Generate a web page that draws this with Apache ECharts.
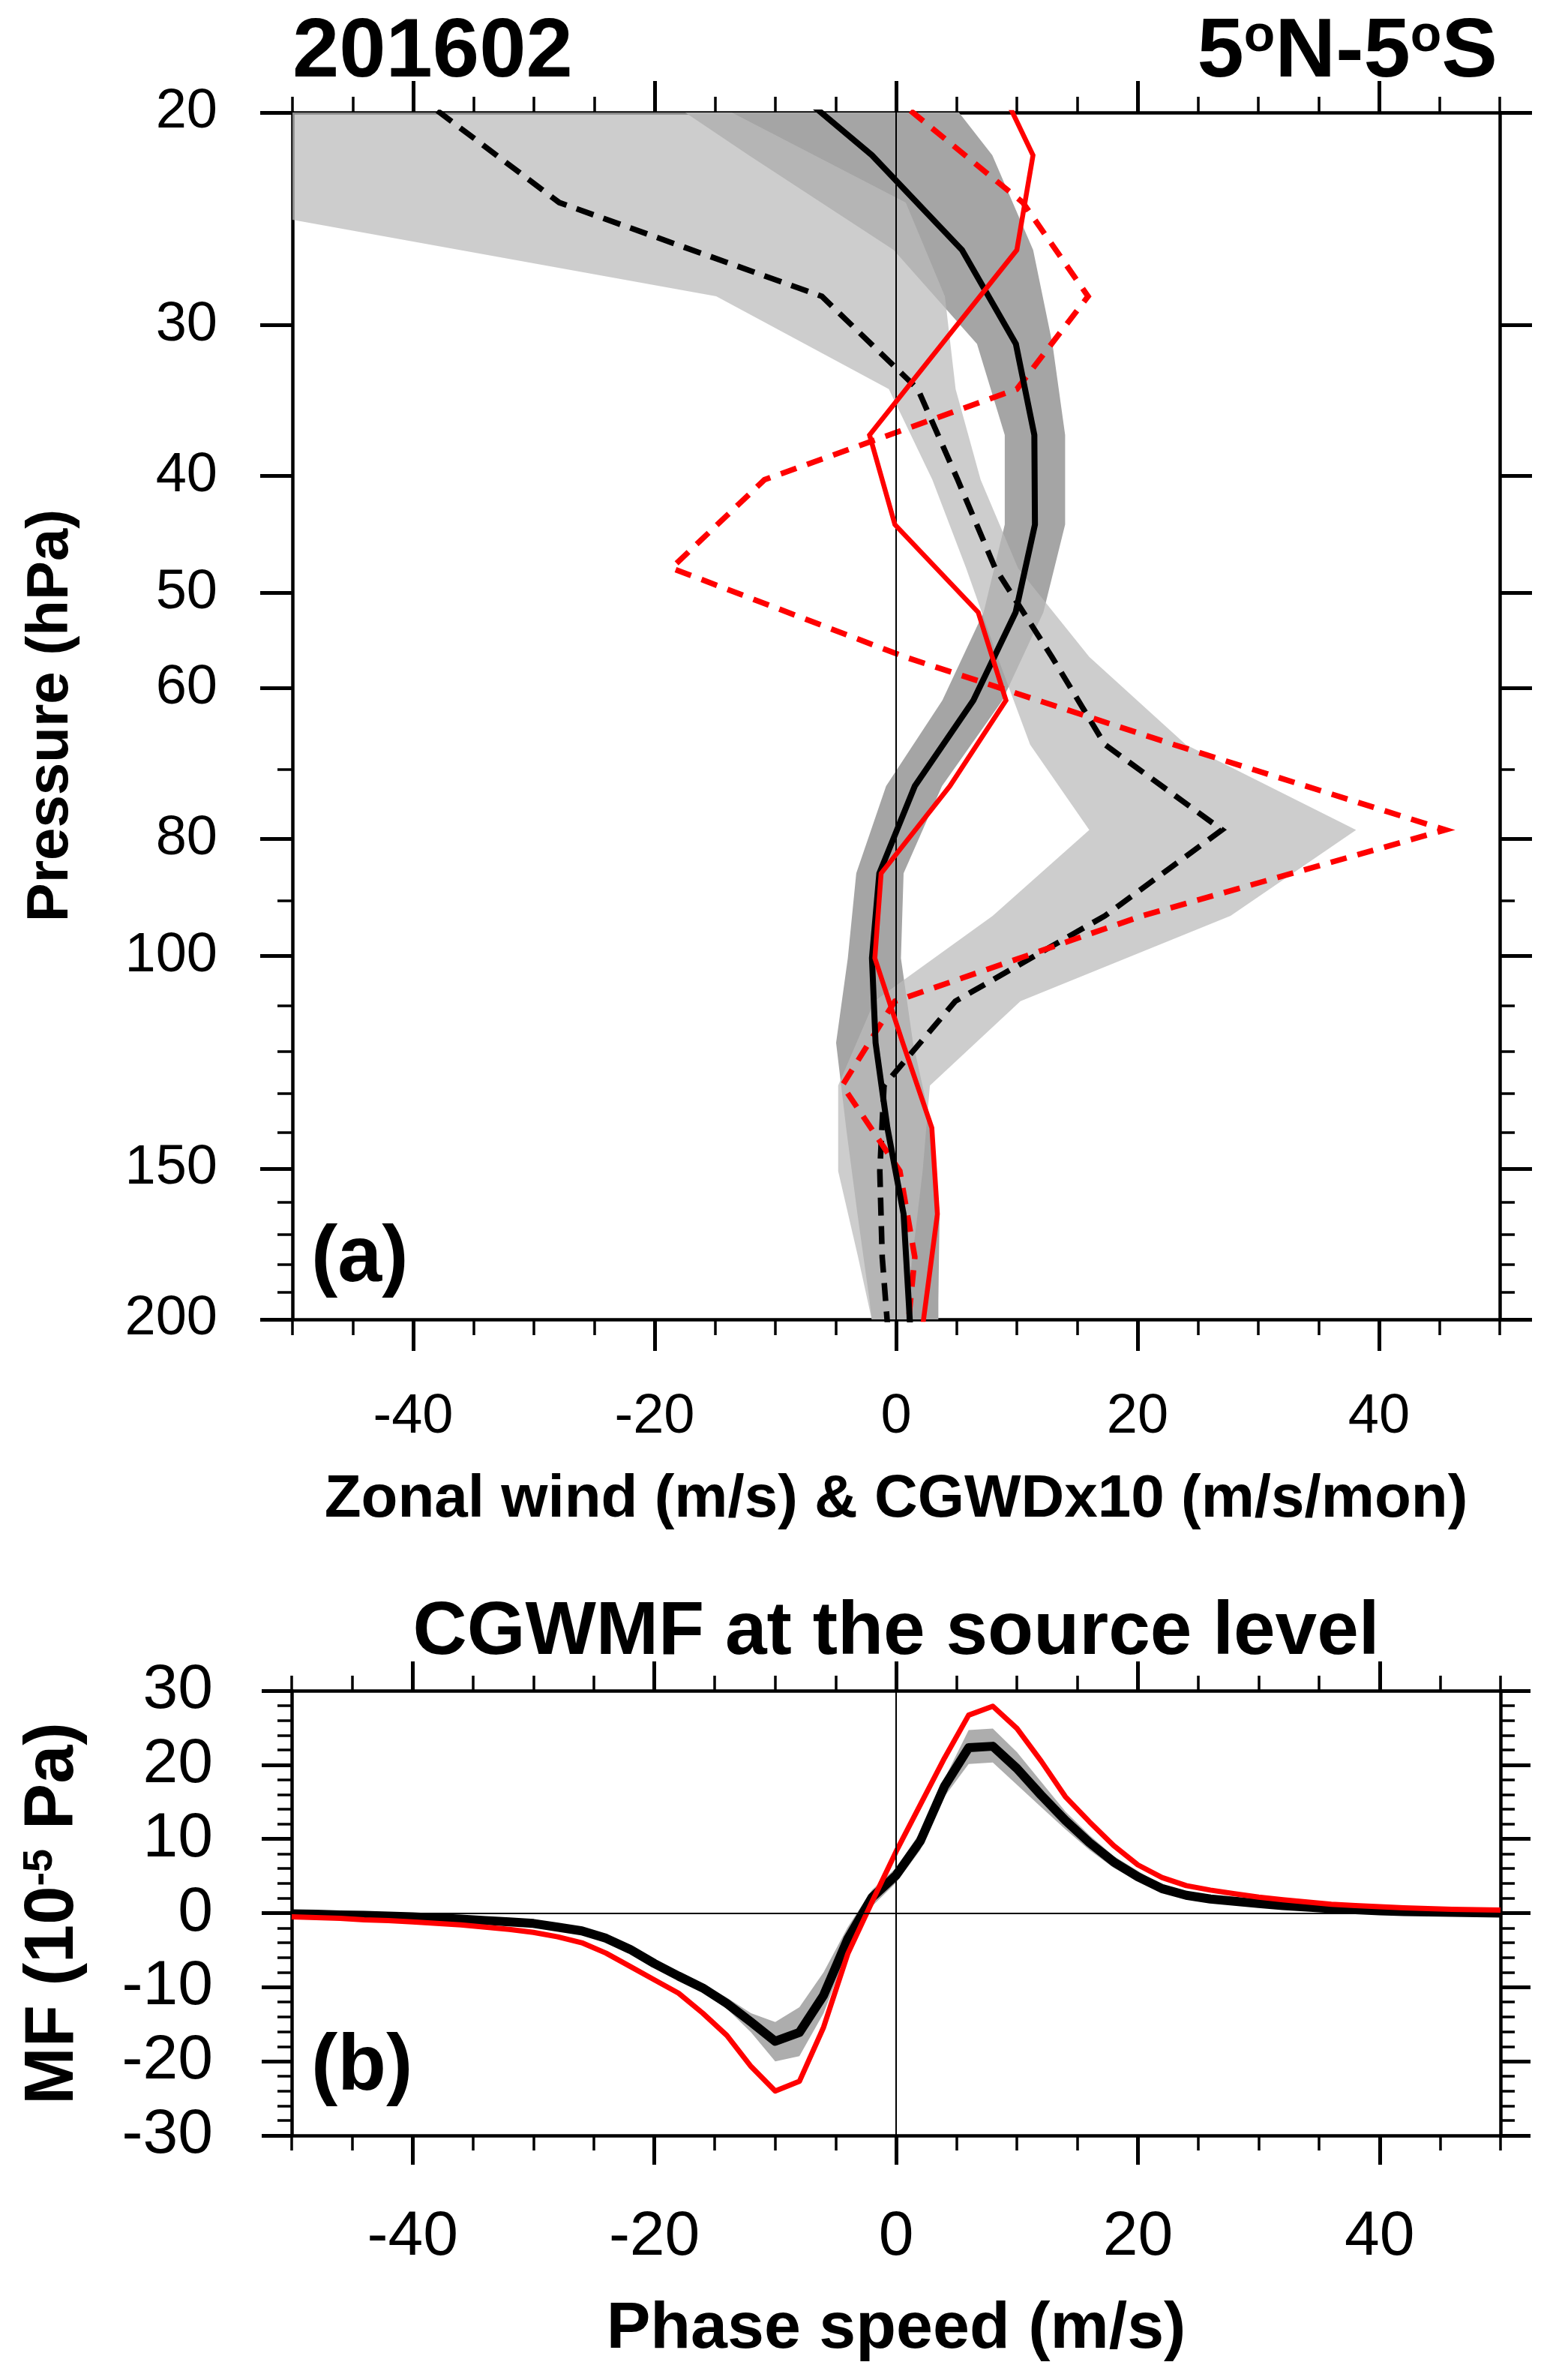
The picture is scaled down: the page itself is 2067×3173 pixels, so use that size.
<!DOCTYPE html>
<html>
<head>
<meta charset="utf-8">
<script src="https://cdn.jsdelivr.net/npm/echarts@6/dist/echarts.min.js"></script>
<style>
html,body{margin:0;padding:0;background:#ffffff;}
#chart{width:2067px;height:3173px;}
</style>
</head>
<body>
<div id="chart"></div>
<script>
// ---------------- Panel (a): vertical profiles ----------------
// model full levels (hPa) for zonal wind, half levels for CGWD
const fullLevels = [18.3, 21.7, 26.0, 31.1, 37.0, 43.9, 51.9, 61.4, 72.3, 85.4, 100.4, 118.0, 138.8, 163.6, 192.9, 227.0];
const halfLevels = [19.93, 23.75, 28.4, 33.9, 40.3, 47.7, 56.5, 66.8, 78.6, 92.6, 109.0, 128.0, 150.7, 177.6, 209.0];

// zonal wind (m/s) on full levels
const windEnsMean = [-10.8, -2.0, 5.46, 9.92, 11.45, 11.5, 9.9, 6.4, 1.55, -1.39, -2.0, -1.7, -0.72, 0.62, 1.04, 1.45];
const windEnsMin  = [-23.2, -12.2, -0.2, 6.7, 9.0, 9.0, 7.25, 3.83, -0.83, -3.3, -4.0, -4.97, -4.14, -3.2, -2.2, -1.4];
const windEnsMax  = [2.2, 7.97, 11.35, 12.95, 14.0, 14.0, 12.2, 8.8, 3.8, 0.62, 0.4, 1.4, 2.96, 3.6, 3.5, 3.5];
const windRef     = [7.8, 11.34, 10.0, 3.8, -2.2, -0.1, 6.8, 9.1, 4.45, -1.24, -1.76, 0.55, 2.96, 3.42, 2.48, 1.55];

// CGWD x10 (m/s/mon) on half levels
const gwdEnsMean = [-38.0, -27.9, -6.15, 1.8, 5.1, 8.2, 12.9, 17.3, 27.0, 17.3, 4.9, -1.0, -1.35, -1.15, -0.6];
const gwdEnsMin  = [-60.0, -57.9, -14.9, -0.6, 3.0, 5.8, 8.4, 11.1, 16.0, 8.0, -1.8, -4.8, -4.8, -3.15, -1.6];
const gwdEnsMax  = [-13.9, 0.8, 4.04, 4.93, 7.0, 10.1, 16.0, 24.0, 38.1, 27.7, 10.3, 2.8, 2.2, 1.35, 0.6];
const gwdRef     = [1.2, 10.5, 15.9, 10.0, -10.9, -18.6, 0.7, 23.0, 45.5, 20.4, -0.1, -4.45, 0.31, 1.55, 0.85];

const pressureTickLabels = [20, 30, 40, 50, 60, 80, 100, 150, 200];
const pressureMinorTicks = [70, 90, 110, 120, 130, 140, 160, 170, 180, 190];
const windTickLabels = [-40, -20, 0, 20, 40];
const windMinorTicks = [-50, -45, -40, -35, -30, -25, -20, -15, -10, -5, 0, 5, 10, 15, 20, 25, 30, 35, 40, 45, 50];

// ---------------- Panel (b): momentum flux spectrum ----------------
const phaseSpeed = [-50, -48, -46, -44, -42, -40, -38, -36, -34, -32, -30, -28, -26, -24, -22, -20, -18, -16, -14, -12, -10, -8, -6, -4, -2, 0, 2, 4, 6, 8, 10, 12, 14, 16, 18, 20, 22, 24, 26, 28, 30, 32, 34, 36, 38, 40, 42, 44, 46, 48, 50];
const mfEnsMean = [-0.1, -0.15, -0.25, -0.3, -0.4, -0.5, -0.65, -0.8, -1.0, -1.2, -1.4, -1.9, -2.4, -3.4, -4.9, -6.8, -8.5, -10.1, -12.2, -14.7, -17.3, -16.1, -11.1, -3.5, 2.1, 5.1, 9.7, 17.1, 22.3, 22.5, 19.5, 15.9, 12.5, 9.5, 6.9, 4.9, 3.3, 2.4, 1.9, 1.6, 1.3, 1.0, 0.8, 0.6, 0.45, 0.3, 0.2, 0.15, 0.1, 0.05, 0.0];
const mfEnsMin  = [-0.5, -0.55, -0.65, -0.7, -0.8, -0.9, -1.05, -1.2, -1.4, -1.6, -1.8, -2.3, -2.8, -3.8, -5.3, -7.3, -9.0, -10.7, -12.9, -16.1, -20.0, -19.3, -13.5, -5.1, 0.9, 4.1, 8.5, 15.7, 20.1, 20.3, 17.3, 14.3, 11.3, 8.5, 6.1, 4.3, 2.9, 2.0, 1.5, 1.2, 0.9, 0.6, 0.4, 0.2, 0.05, -0.1, -0.2, -0.25, -0.3, -0.35, -0.4];
const mfEnsMax  = [0.3, 0.25, 0.15, 0.1, 0.0, -0.1, -0.25, -0.4, -0.6, -0.8, -1.0, -1.5, -2.0, -3.0, -4.5, -6.3, -8.0, -9.5, -11.4, -13.5, -14.7, -12.7, -8.0, -1.9, 3.1, 6.1, 10.9, 18.1, 24.7, 24.9, 21.7, 17.7, 13.7, 10.5, 7.7, 5.7, 3.7, 2.8, 2.3, 2.0, 1.7, 1.4, 1.2, 1.0, 0.85, 0.7, 0.6, 0.55, 0.5, 0.45, 0.4];
const mfRef     = [-0.5, -0.6, -0.7, -0.9, -1.0, -1.2, -1.4, -1.6, -1.9, -2.2, -2.6, -3.2, -4.0, -5.4, -7.2, -9.0, -10.8, -13.5, -16.5, -20.7, -24.0, -22.7, -15.4, -5.5, 1.5, 8.3, 14.6, 20.9, 26.7, 27.9, 24.9, 20.5, 15.7, 12.3, 9.1, 6.5, 4.8, 3.7, 3.1, 2.6, 2.15, 1.8, 1.5, 1.2, 1.0, 0.85, 0.7, 0.6, 0.5, 0.45, 0.4];
const mfTickLabels = [-30, -20, -10, 0, 10, 20, 30];
const mfMinorTicks = [-30, -28, -26, -24, -22, -20, -18, -16, -14, -12, -10, -8, -6, -4, -2, 0, 2, 4, 6, 8, 10, 12, 14, 16, 18, 20, 22, 24, 26, 28, 30];
const speedTickLabels = [-40, -20, 0, 20, 40];
const speedMinorTicks = [-50, -45, -40, -35, -30, -25, -20, -15, -10, -5, 0, 5, 10, 15, 20, 25, 30, 35, 40, 45, 50];

// ---------------- build ----------------
const FONT = '"Liberation Sans", Arial, Helvetica, sans-serif';
const lg = v => Math.log10(v);

function xAx(grid, pos, ticks, len, tw, labels, fs, margin, showLine) {
  return {
    type: 'value', gridIndex: grid, position: pos, min: -50, max: 50,
    splitLine: { show: false },
    axisLine: { show: showLine, onZero: false, lineStyle: { color: '#000', width: 4.5 } },
    axisTick: { show: true, inside: false, length: len, customValues: ticks, lineStyle: { color: '#000', width: tw } },
    axisLabel: labels ? { show: true, customValues: labels, fontSize: fs, fontFamily: FONT, color: '#000', margin: margin, lineHeight: fs } : { show: false }
  };
}
function yAx(grid, pos, mn, mx, inv, ticks, len, tw, labels, fs, margin, showLine, fmt) {
  const a = {
    type: 'value', gridIndex: grid, position: pos, min: mn, max: mx, inverse: inv,
    splitLine: { show: false },
    axisLine: { show: showLine, onZero: false, lineStyle: { color: '#000', width: 4.5 } },
    axisTick: { show: true, inside: false, length: len, customValues: ticks, lineStyle: { color: '#000', width: tw } },
    axisLabel: labels ? { show: true, customValues: labels, fontSize: fs, fontFamily: FONT, color: '#000', margin: margin } : { show: false }
  };
  if (labels && fmt) a.axisLabel.formatter = fmt;
  return a;
}

const pMin = lg(20), pMax = lg(200);
const pLab = pressureTickLabels.map(lg);
const pMinor = pressureMinorTicks.map(lg);
const pFmt = v => String(Math.round(Math.pow(10, v)));

const xAxes = [
  xAx(0, 'bottom', windTickLabels, 42, 5, windTickLabels, 74, 94, true),
  xAx(0, 'top', windTickLabels, 42, 5, null, 0, 0, true),
  xAx(0, 'bottom', windMinorTicks, 21, 3.5, null, 0, 0, false),
  xAx(0, 'top', windMinorTicks, 21, 3.5, null, 0, 0, false),
  xAx(1, 'bottom', speedTickLabels, 39, 5, speedTickLabels, 84, 94, true),
  xAx(1, 'top', speedTickLabels, 39, 5, null, 0, 0, true),
  xAx(1, 'bottom', speedMinorTicks, 20, 3.5, null, 0, 0, false),
  xAx(1, 'top', speedMinorTicks, 20, 3.5, null, 0, 0, false)
];
const yAxes = [
  yAx(0, 'left', pMin, pMax, true, pLab, 43, 5, pLab, 74, 100, true, pFmt),
  yAx(0, 'right', pMin, pMax, true, pLab, 43, 5, null, 0, 0, true),
  yAx(0, 'left', pMin, pMax, true, pMinor, 20, 3.5, null, 0, 0, false),
  yAx(0, 'right', pMin, pMax, true, pMinor, 20, 3.5, null, 0, 0, false),
  yAx(1, 'left', -30, 30, false, mfTickLabels, 40, 5, mfTickLabels, 84, 105, true),
  yAx(1, 'right', -30, 30, false, mfTickLabels, 40, 5, null, 0, 0, true),
  yAx(1, 'left', -30, 30, false, mfMinorTicks, 19, 3.5, null, 0, 0, false),
  yAx(1, 'right', -30, 30, false, mfMinorTicks, 19, 3.5, null, 0, 0, false)
];

// band between two x-curves along pressure (panel a)
function profileBand(name, lo, hi, levels, fill, z) {
  const ys = levels.map(lg);
  return {
    name: name, type: 'custom', xAxisIndex: 0, yAxisIndex: 0, z: z, silent: true, clip: true,
    data: [[0, lg(50)]],
    renderItem: function (params, api) {
      const pts = [];
      for (let i = 0; i < ys.length; i++) pts.push(api.coord([lo[i], ys[i]]));
      for (let i = ys.length - 1; i >= 0; i--) pts.push(api.coord([hi[i], ys[i]]));
      return { type: 'polygon', shape: { points: pts }, style: { fill: fill, stroke: null, lineWidth: 0 } };
    }
  };
}
// band between two y-curves along phase speed (panel b)
function spectrumBand(name, xs, lo, hi, fill, z) {
  return {
    name: name, type: 'custom', xAxisIndex: 4, yAxisIndex: 4, z: z, silent: true, clip: true,
    data: [[0, 0]],
    renderItem: function (params, api) {
      const pts = [];
      for (let i = 0; i < xs.length; i++) pts.push(api.coord([xs[i], lo[i]]));
      for (let i = xs.length - 1; i >= 0; i--) pts.push(api.coord([xs[i], hi[i]]));
      return { type: 'polygon', shape: { points: pts }, style: { fill: fill, stroke: null, lineWidth: 0 } };
    }
  };
}
function profileLine(name, vals, levels, color, width, dash, z, extra) {
  const s = {
    name: name, type: 'line', xAxisIndex: 0, yAxisIndex: 0, z: z, silent: true,
    showSymbol: false, symbol: 'none', clip: true,
    data: vals.map((v, i) => [v, lg(levels[i])]),
    lineStyle: { color: color, width: width, type: dash || 'solid', cap: 'butt', join: 'miter' }
  };
  return Object.assign(s, extra || {});
}
function spectrumLine(name, vals, color, width, z, extra) {
  const s = {
    name: name, type: 'line', xAxisIndex: 4, yAxisIndex: 4, z: z, silent: true,
    showSymbol: false, symbol: 'none', clip: true,
    data: vals.map((v, i) => [phaseSpeed[i], v]),
    lineStyle: { color: color, width: width, type: 'solid', join: 'round' }
  };
  return Object.assign(s, extra || {});
}
const zeroLine = (data) => ({
  silent: true, symbol: ['none', 'none'], animation: false,
  label: { show: false },
  lineStyle: { color: '#000', width: 2, type: 'solid' },
  emphasis: { disabled: true },
  data: data
});

const series = [
  profileBand('wind spread', windEnsMin, windEnsMax, fullLevels, '#a5a5a5', 1),
  profileBand('CGWD spread', gwdEnsMin, gwdEnsMax, halfLevels, 'rgba(187,187,187,0.733)', 2),
  profileLine('CGWD ens', gwdEnsMean, halfLevels, '#000000', 7.5, [24, 14], 3, { markLine: zeroLine([{ xAxis: 0 }]) }),
  profileLine('CGWD ref', gwdRef, halfLevels, '#ff0000', 7.5, [22, 15], 4),
  profileLine('U ens', windEnsMean, fullLevels, '#000000', 8, 'solid', 5),
  profileLine('U ref', windRef, fullLevels, '#ff0000', 6.5, 'solid', 6),
  spectrumBand('MF spread', phaseSpeed, mfEnsMin, mfEnsMax, '#adadad', 1),
  spectrumLine('MF ens', mfEnsMean, '#000000', 12, 3, { markLine: zeroLine([{ xAxis: 0 }, { yAxis: 0 }]) }),
  spectrumLine('MF ref', mfRef, '#ff0000', 7, 4)
];

const B = 'bold';
function txt(x, y, text, size, align, rot, rich) {
  const el = {
    type: 'text', x: x, y: y, rotation: rot || 0, silent: true, z: 100,
    style: {
      x: 0, y: 0, text: text, fill: '#000',
      fontSize: size, fontWeight: B, fontFamily: FONT,
      font: 'bold ' + size + 'px ' + FONT,
      align: align, verticalAlign: 'middle',
      textAlign: align, textVerticalAlign: 'middle'
    }
  };
  if (rich) el.style.rich = rich;
  return el;
}
const supRich = (main, sup) => ({
  m: { fontSize: main, fontWeight: B, fontFamily: FONT, fill: '#000' },
  s: { fontSize: sup, fontWeight: B, fontFamily: FONT, fill: '#000', verticalAlign: 'top' }
});

const graphic = [
  txt(390, 71, '201602', 112, 'left'),
  txt(1997, 71, '{m|5}{s|o}{m|N-5}{s|o}{m|S}', 112, 'right', 0, supRich(112, 68)),
  txt(68, 954, 'Pressure (hPa)', 78, 'center', Math.PI / 2),
  txt(1195, 2000, 'Zonal wind (m/s) & CGWDx10 (m/s/mon)', 80, 'center'),
  txt(415, 1679, '(a)', 106, 'left'),
  txt(1195, 2177, 'CGWMF at the source level', 100, 'center'),
  txt(72, 2551, '{m|MF (10}{s|-5}{m| Pa)}', 92, 'center', Math.PI / 2, supRich(92, 56)),
  txt(1195, 3106, 'Phase speed (m/s)', 88, 'center'),
  txt(415, 2757, '(b)', 106, 'left')
];

const chart = echarts.init(document.getElementById('chart'), null, { renderer: 'canvas' });
chart.setOption({
  backgroundColor: '#ffffff',
  animation: false,
  grid: [
    { left: 390, top: 150, width: 1610, height: 1609, containLabel: false, outerBoundsMode: 'none' },
    { left: 389, top: 2254, width: 1612, height: 593, containLabel: false, outerBoundsMode: 'none' }
  ],
  xAxis: xAxes,
  yAxis: yAxes,
  series: series,
  graphic: graphic
});
</script>
</body>
</html>
